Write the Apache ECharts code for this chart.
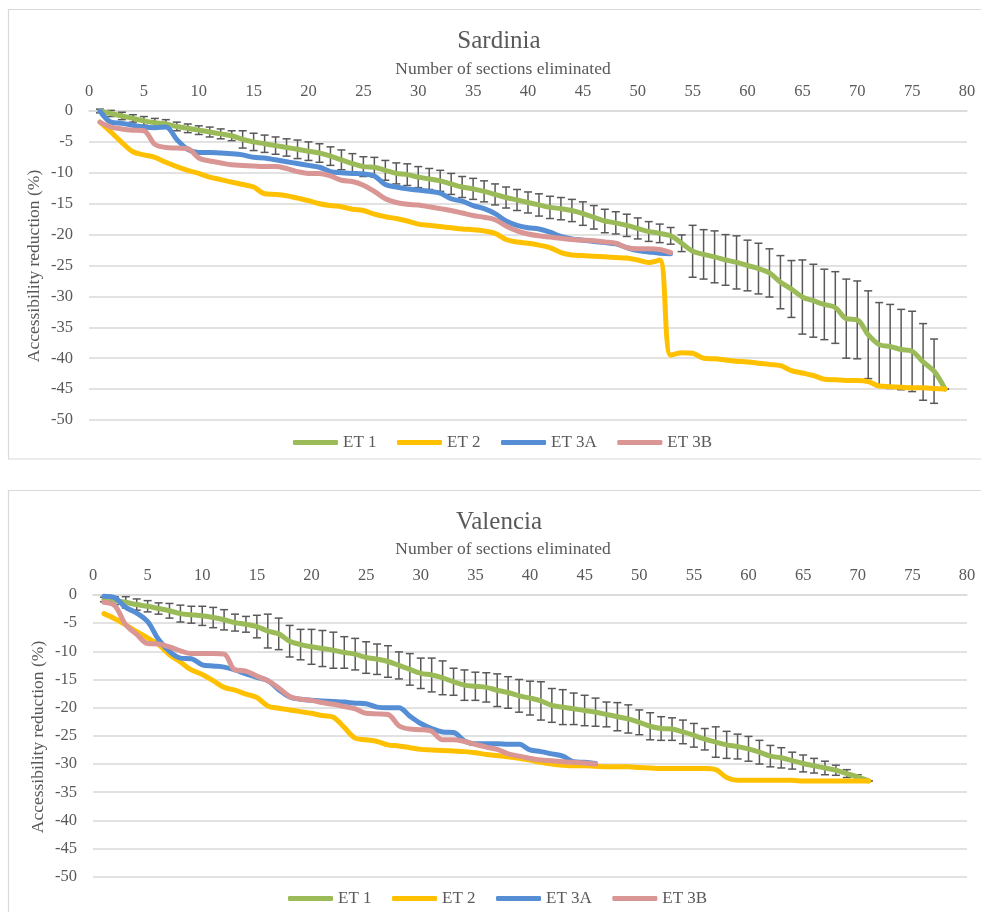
<!DOCTYPE html>
<html>
<head>
<meta charset="utf-8">
<script src="https://cdn.jsdelivr.net/npm/echarts@6/dist/echarts.min.js"></script>
<style>
html,body{margin:0;padding:0;background:#fff;}
#c{width:981px;height:912px;}
</style>
</head>
<body>
<div id="c"></div>
<script>
// ---- data (x = number of sections eliminated, starting at 1) ----
var xTicks = [0,5,10,15,20,25,30,35,40,45,50,55,60,65,70,75,80];
var yTicks = [0,-5,-10,-15,-20,-25,-30,-35,-40,-45,-50];
var seriesNames = ['ET 1','ET 2','ET 3A','ET 3B'];

var sarET1 = [0,-0.4,-0.8,-1.2,-1.6,-1.9,-2.1,-2.5,-2.8,-3.1,
  -3.4,-3.7,-4.0,-4.6,-5.0,-5.3,-5.6,-5.9,-6.2,-6.5,
  -6.8,-7.3,-7.9,-8.5,-9.0,-9.1,-9.6,-10.1,-10.3,-10.7,
  -11.0,-11.3,-11.8,-12.3,-12.6,-13.0,-13.5,-14.0,-14.4,-14.8,
  -15.2,-15.6,-15.8,-16.1,-16.6,-17.2,-17.8,-18.1,-18.5,-19.0,
  -19.5,-19.8,-20.2,-21.4,-22.7,-23.2,-23.6,-24.1,-24.5,-25.0,
  -25.5,-26.2,-27.7,-28.8,-30.1,-30.7,-31.3,-31.8,-33.6,-33.8,
  -36.2,-37.8,-38.1,-38.6,-38.9,-40.6,-42.1,-45.0];
var sarET1err = [0.3,0.5,0.6,0.6,0.7,0.7,0.7,0.7,0.7,0.7,
  0.8,0.8,0.8,1.4,1.4,1.4,1.4,1.4,1.5,1.5,
  1.5,1.5,1.6,1.6,1.6,1.6,1.6,1.7,1.75,1.7,
  1.7,1.7,1.7,1.7,1.7,1.7,1.7,1.7,1.7,1.7,
  1.8,1.8,1.8,1.8,1.9,1.9,1.9,1.8,1.8,1.7,
  1.6,1.5,1.35,1.35,4.2,4.0,4.2,4.1,4.3,4.1,
  4.1,3.9,4.3,4.6,6.0,5.9,5.7,5.8,6.4,6.3,
  7.1,6.8,6.8,6.5,6.5,6.2,5.2,0];
var sarET2 = [-1.8,-3.4,-5.1,-6.6,-7.1,-7.5,-8.3,-9.0,-9.6,-10.1,
  -10.7,-11.1,-11.5,-11.9,-12.3,-13.4,-13.5,-13.7,-14.1,-14.5,
  -15.0,-15.3,-15.5,-15.9,-16.1,-16.7,-17.1,-17.4,-17.8,-18.3,
  -18.5,-18.7,-18.9,-19.1,-19.2,-19.4,-19.8,-20.8,-21.2,-21.4,
  -21.7,-22.1,-22.9,-23.3,-23.4,-23.5,-23.6,-23.7,-23.8,-24.1,
  -24.5,-24.1,-39.5,-39.1,-39.2,-40.0,-40.1,-40.3,-40.5,-40.6,
  -40.8,-41.0,-41.2,-42.0,-42.4,-42.8,-43.4,-43.5,-43.6,-43.6,
  -43.8,-44.5,-44.6,-44.7,-44.8,-44.8,-44.9,-45.0];
var sarET3A = [0,-1.8,-2.0,-2.3,-2.6,-2.7,-2.6,-4.6,-6.2,-6.7,
  -6.7,-6.8,-6.9,-7.1,-7.5,-7.6,-7.9,-8.2,-8.5,-8.8,
  -9.1,-9.8,-10.0,-10.1,-10.2,-10.5,-11.9,-12.3,-12.6,-12.8,
  -13.0,-13.3,-14.2,-14.6,-15.3,-15.8,-16.6,-17.8,-18.5,-18.9,
  -19.1,-19.6,-20.3,-20.7,-20.9,-21.1,-21.3,-21.5,-22.1,-22.6,
  -22.8,-23.0,-23.1];
var sarET3B = [-1.8,-2.6,-2.9,-3.1,-3.2,-5.4,-5.9,-6.0,-6.1,-7.6,
  -8.1,-8.4,-8.7,-8.8,-8.9,-9.0,-9.0,-9.3,-9.8,-10.1,
  -10.1,-10.5,-11.2,-11.4,-12.0,-13.0,-14.2,-14.8,-15.1,-15.2,
  -15.5,-15.8,-16.1,-16.5,-16.9,-17.2,-17.6,-18.6,-19.4,-19.9,
  -20.2,-20.4,-20.6,-20.8,-20.9,-21.0,-21.2,-21.4,-22.1,-22.3,
  -22.3,-22.4,-22.9];

var valET1 = [-0.8,-1.0,-1.3,-1.7,-2.0,-2.4,-2.8,-3.3,-3.5,-3.7,
  -4.0,-4.4,-4.9,-5.2,-5.6,-6.4,-6.9,-8.2,-8.8,-9.2,
  -9.5,-9.8,-10.2,-10.5,-11.1,-11.4,-11.8,-12.5,-13.2,-13.9,
  -14.2,-14.7,-15.4,-16.0,-16.2,-16.4,-16.9,-17.3,-17.9,-18.3,
  -18.8,-19.6,-19.9,-20.2,-20.5,-20.8,-21.2,-21.6,-22.0,-22.6,
  -23.3,-23.7,-23.8,-24.3,-24.9,-25.6,-26.1,-26.6,-26.9,-27.3,
  -27.9,-28.6,-28.9,-29.4,-29.9,-30.3,-30.7,-31.1,-31.7,-32.3,
  -33.0];
var valET1err = [0.4,0.7,1.0,1.0,1.0,1.0,1.3,1.5,1.5,1.7,
  1.8,1.8,1.5,1.4,2.0,3.0,2.8,2.8,2.7,3.1,
  3.2,3.2,2.8,2.8,2.8,2.7,2.8,2.4,2.8,2.7,
  3.0,3.0,2.4,2.7,2.5,2.6,2.9,2.8,2.9,3.0,
  3.4,3.0,3.1,2.8,2.7,2.5,2.2,2.5,2.5,2.2,
  2.4,2.1,2.0,2.1,2.1,1.9,2.7,2.4,2.2,2.2,
  2.1,1.9,1.8,1.5,1.5,1.3,1.2,0.9,0.7,0.4,
  0];
var valET2 = [-3.3,-4.2,-5.3,-6.5,-7.6,-8.8,-10.6,-11.9,-13.3,-14.1,
  -15.2,-16.4,-16.9,-17.6,-18.2,-19.7,-20.1,-20.4,-20.7,-21.0,
  -21.4,-21.7,-23.5,-25.4,-25.7,-26.0,-26.6,-26.8,-27.1,-27.4,
  -27.5,-27.6,-27.7,-27.8,-28.0,-28.3,-28.5,-28.7,-29.0,-29.3,
  -29.7,-30.0,-30.2,-30.3,-30.3,-30.4,-30.5,-30.5,-30.5,-30.6,
  -30.7,-30.8,-30.8,-30.8,-30.8,-30.8,-31.0,-32.4,-32.9,-32.9,
  -32.9,-32.9,-32.9,-32.9,-33.0,-33.0,-33.0,-33.0,-33.0,-33.0,
  -33.0];
var valET3A = [-0.2,-0.5,-2.2,-3.2,-4.7,-7.9,-10.0,-11.2,-11.3,-12.4,
  -12.6,-12.8,-13.3,-14.0,-14.6,-15.2,-16.8,-18.1,-18.5,-18.7,
  -18.8,-18.9,-19.0,-19.2,-19.3,-19.9,-20.0,-20.0,-21.5,-22.8,
  -23.7,-24.3,-24.4,-25.9,-26.4,-26.4,-26.4,-26.5,-26.5,-27.5,
  -27.8,-28.2,-28.6,-29.6,-29.7,-29.9];
var valET3B = [-1.3,-1.9,-5.3,-7.0,-8.6,-8.7,-9.2,-9.9,-10.4,-10.4,
  -10.4,-10.5,-13.3,-13.5,-14.4,-15.2,-16.5,-18.0,-18.5,-18.7,
  -19.1,-19.4,-19.8,-20.2,-21.0,-21.1,-21.2,-23.2,-23.8,-23.9,
  -24.2,-25.7,-25.7,-26.0,-26.5,-27.0,-27.4,-28.2,-28.6,-29.0,
  -29.3,-29.4,-29.6,-29.7,-29.8,-30.0];

// ---- styling ----
var FONT = 'Liberation Serif';
var TXT = '#595959';
var GRIDC = '#d9d9d9';
var COLORS = ['#9BBB59','#FFC000','#558ED5','#D99694'];

function pts(arr){ return arr.map(function(v,i){ return [i+1, v]; }); }
function errPts(arr, err){ return arr.map(function(v,i){ return [i+1, v, err[i]]; }); }

function renderErr(params, api){
  var x = api.value(0), y = api.value(1), e = api.value(2);
  var t = api.coord([x, y + e]);
  var b = api.coord([x, y - e]);
  var hw = 4;
  var st = {stroke:'#595959', lineWidth:1.5};
  return {type:'group', children:[
    {type:'line', shape:{x1:t[0],y1:t[1],x2:b[0],y2:b[1]}, style:st},
    {type:'line', shape:{x1:t[0]-hw,y1:t[1],x2:t[0]+hw,y2:t[1]}, style:st},
    {type:'line', shape:{x1:b[0]-hw,y1:b[1],x2:b[0]+hw,y2:b[1]}, style:st}
  ]};
}

function xAx(gi){
  return {type:'value', gridIndex:gi, position:'top', min:0, max:80, interval:5,
    axisLine:{show:true, lineStyle:{color:GRIDC, width:1.5}},
    axisTick:{show:false}, splitLine:{show:false},
    axisLabel:{color:TXT, fontFamily:FONT, fontSize:16.5, margin:11,
      formatter:function(v){ return xTicks.indexOf(v) >= 0 ? String(v) : ''; }}};
}
function yAx(gi, margin){
  return {type:'value', gridIndex:gi, min:-50, max:0, interval:5,
    axisLine:{show:false}, axisTick:{show:false},
    splitLine:{show:true, lineStyle:{color:GRIDC, width:1.5}},
    axisLabel:{color:TXT, fontFamily:FONT, fontSize:16.5, margin:margin,
      formatter:function(v){ return yTicks.indexOf(v) >= 0 ? String(v) : ''; }}};
}
function lineSeries(name, data, gi, ci){
  return {type:'line', name:name, xAxisIndex:gi, yAxisIndex:gi, data:pts(data),
    smooth:0.35, symbol:'none', showSymbol:false,
    lineStyle:{color:COLORS[ci], width:5, cap:'round', join:'round'},
    itemStyle:{color:COLORS[ci]}, emphasis:{disabled:true}, z:3+ci};
}
function legend(left, top){
  return {left:left, top:top, padding:0, itemWidth:45, itemHeight:5, itemGap:20.5, icon:'roundRect',
    selectedMode:false, data:seriesNames,
    textStyle:{color:TXT, fontFamily:FONT, fontSize:17}};
}
function txt(x, y, s, size, rot){
  return {type:'text', x:x, y:y, rotation:rot||0,
    style:{text:s, fill:TXT, font: size + 'px "' + FONT + '"', textAlign:'center', textVerticalAlign:'middle'}};
}

var chart = echarts.init(document.getElementById('c'), null, {renderer:'canvas'});
chart.setOption({
  animation:false,
  backgroundColor:'#fff',
  grid:[
    {left:89, right:14, top:111, height:309},
    {left:93, right:14, top:595, height:281.7}
  ],
  xAxis:[xAx(0), xAx(1)],
  yAxis:[yAx(0,16), yAx(1,16)],
  legend:[legend(293, 434), legend(288, 890)],
  graphic:[
    {type:'rect', shape:{x:8.5, y:9.5, width:975, height:449.5}, style:{fill:'none', stroke:GRIDC, lineWidth:1.2}, silent:true},
    {type:'rect', shape:{x:8.5, y:490.5, width:975, height:440}, style:{fill:'none', stroke:GRIDC, lineWidth:1.2}, silent:true},
    txt(499, 41, 'Sardinia', 25),
    txt(503, 69, 'Number of sections eliminated', 17.5),
    txt(34, 266, 'Accessibility reduction (%)', 17.5, Math.PI/2),
    txt(499, 522, 'Valencia', 25),
    txt(503, 549, 'Number of sections eliminated', 17.5),
    txt(38, 737, 'Accessibility reduction (%)', 17.5, Math.PI/2)
  ],
  series:[
    {type:'custom', name:'errS', xAxisIndex:0, yAxisIndex:0, renderItem:renderErr,
      data:errPts(sarET1, sarET1err), encode:{x:0, y:1}, z:2, silent:true},
    lineSeries('ET 1', sarET1, 0, 0),
    lineSeries('ET 2', sarET2, 0, 1),
    lineSeries('ET 3A', sarET3A, 0, 2),
    lineSeries('ET 3B', sarET3B, 0, 3),
    {type:'custom', name:'errV', xAxisIndex:1, yAxisIndex:1, renderItem:renderErr,
      data:errPts(valET1, valET1err), encode:{x:0, y:1}, z:2, silent:true},
    lineSeries('ET 1', valET1, 1, 0),
    lineSeries('ET 2', valET2, 1, 1),
    lineSeries('ET 3A', valET3A, 1, 2),
    lineSeries('ET 3B', valET3B, 1, 3)
  ]
});
</script>
</body>
</html>
